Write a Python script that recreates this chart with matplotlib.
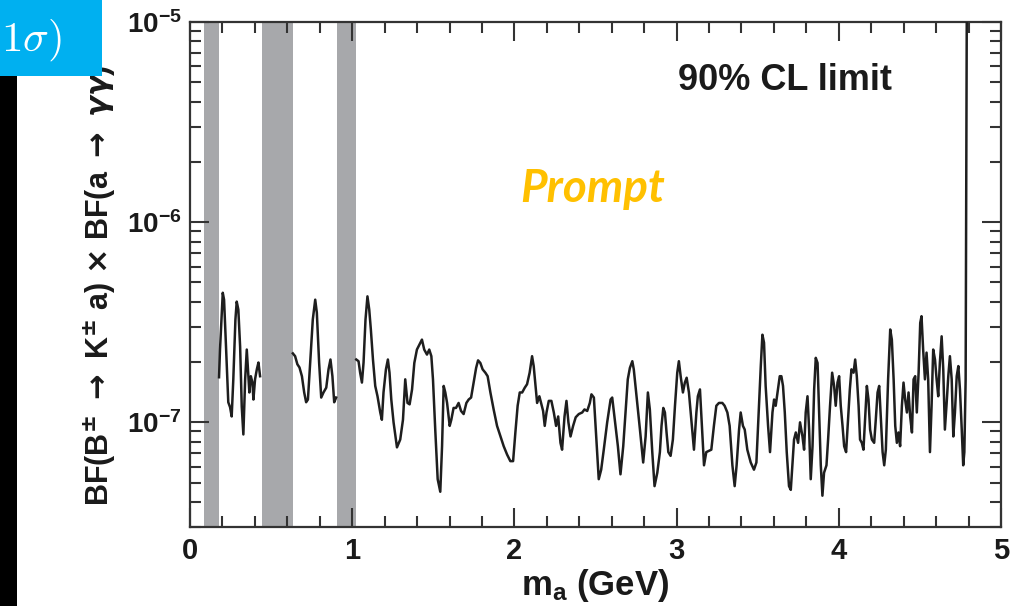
import numpy as np
import matplotlib
matplotlib.use("Agg")
import matplotlib.pyplot as plt
from matplotlib.patches import Rectangle
from matplotlib.ticker import FixedLocator, NullFormatter

plt.rcParams['font.family'] = ['Liberation Sans', 'DejaVu Sans']
plt.rcParams['font.weight'] = 'bold'
plt.rcParams['mathtext.fontset'] = 'custom'
plt.rcParams['mathtext.rm'] = 'Liberation Sans:bold'
plt.rcParams['mathtext.it'] = 'Liberation Sans:bold:italic'
plt.rcParams['mathtext.bf'] = 'Liberation Sans:bold'

# ---------------- data (mass in GeV, limit in units of 1e-7) ----------------
seg_a_mass = [0.179, 0.185, 0.202, 0.210, 0.222, 0.236, 0.247, 0.257, 0.267, 0.280,
              0.288, 0.298, 0.309, 0.319, 0.329, 0.340, 0.350, 0.360, 0.366, 0.375,
              0.385, 0.391, 0.401, 0.412, 0.422, 0.432]
seg_a_limit = [1.68, 2.31, 4.44, 4.10, 2.39, 1.26, 1.19, 1.07, 1.64, 3.26,
               4.01, 3.66, 2.39, 1.20, 0.87, 1.64, 2.31, 1.70, 1.41, 1.70,
               1.58, 1.30, 1.64, 1.84, 1.99, 1.70]

seg_b_mass = [0.634, 0.648, 0.662, 0.675, 0.690, 0.704, 0.716, 0.727, 0.741, 0.757,
              0.772, 0.782, 0.796, 0.809, 0.823, 0.840, 0.854, 0.866, 0.878, 0.889, 0.901]
seg_b_limit = [2.21, 2.14, 1.95, 1.88, 1.70, 1.41, 1.26, 1.30, 1.99, 3.26,
               4.10, 3.53, 1.99, 1.33, 1.41, 1.49, 1.84, 2.06, 1.70, 1.26, 1.33]

seg_c_mass = [1.025, 1.039, 1.049, 1.060, 1.070, 1.082, 1.094, 1.105, 1.115, 1.128,
              1.142, 1.156, 1.173, 1.183, 1.193, 1.208, 1.220, 1.230, 1.241, 1.255,
              1.276, 1.296, 1.313, 1.327, 1.341, 1.354, 1.369, 1.383, 1.399, 1.415,
              1.430, 1.444, 1.461, 1.475, 1.488, 1.498, 1.512, 1.527, 1.543, 1.554,
              1.564, 1.574, 1.585, 1.601, 1.611, 1.625, 1.640, 1.656, 1.671, 1.687,
              1.704, 1.718, 1.733, 1.749, 1.764, 1.776, 1.790, 1.804, 1.821, 1.835,
              1.852, 1.872, 1.893, 1.914, 1.934, 1.955, 1.975, 1.992, 2.006, 2.020,
              2.033, 2.048, 2.064, 2.078, 2.094, 2.109, 2.119, 2.130, 2.140, 2.154,
              2.167, 2.177, 2.187, 2.198, 2.212, 2.228, 2.243, 2.257, 2.270, 2.284,
              2.294, 2.309, 2.321, 2.333, 2.346, 2.362, 2.378, 2.397, 2.418, 2.432,
              2.449, 2.465, 2.475, 2.490, 2.504, 2.520, 2.535, 2.551, 2.572, 2.593,
              2.603, 2.619, 2.638, 2.654, 2.671, 2.685, 2.699, 2.712, 2.727, 2.736,
              2.753, 2.774, 2.794, 2.809, 2.823, 2.835, 2.850, 2.864, 2.881, 2.897,
              2.907, 2.918, 2.928, 2.938, 2.949, 2.963, 2.977, 2.990, 3.004, 3.014,
              3.025, 3.039, 3.051, 3.062, 3.076, 3.091, 3.107, 3.122, 3.131, 3.144,
              3.154, 3.169, 3.183, 3.199, 3.214, 3.230, 3.245, 3.261, 3.282, 3.296,
              3.313, 3.327, 3.344, 3.358, 3.370, 3.385, 3.395, 3.409, 3.420, 3.436,
              3.457, 3.477, 3.492, 3.504, 3.519, 3.529, 3.539, 3.549, 3.564, 3.576,
              3.591, 3.601, 3.611, 3.622, 3.636, 3.646, 3.656, 3.667, 3.679, 3.693,
              3.704, 3.714, 3.724, 3.735, 3.749, 3.761, 3.776, 3.786, 3.796, 3.807,
              3.817, 3.827, 3.838, 3.848, 3.858, 3.869, 3.879, 3.889, 3.899, 3.909,
              3.924, 3.934, 3.946, 3.959, 3.971, 3.981, 3.992, 4.002, 4.012, 4.023,
              4.033, 4.045, 4.057, 4.068, 4.078, 4.091, 4.101, 4.111, 4.122, 4.131,
              4.142, 4.152, 4.162, 4.173, 4.183, 4.193, 4.204, 4.218, 4.228, 4.239,
              4.249, 4.259, 4.270, 4.280, 4.290, 4.304, 4.317, 4.327, 4.338, 4.348,
              4.358, 4.368, 4.378, 4.389, 4.399, 4.409, 4.420, 4.430, 4.440, 4.451,
              4.461, 4.471, 4.481, 4.492, 4.502, 4.510, 4.520, 4.531, 4.541, 4.551,
              4.562, 4.572, 4.582, 4.593, 4.603, 4.613, 4.623, 4.634, 4.644, 4.654,
              4.665, 4.675, 4.685, 4.696, 4.706, 4.716, 4.727, 4.737, 4.747, 4.758,
              4.767, 4.774, 4.782, 4.790]
seg_c_limit = [2.06, 2.02, 1.77, 1.58, 1.99, 3.26, 4.26, 3.66, 2.91, 2.06,
               1.52, 1.35, 1.12, 1.03, 1.41, 1.84, 2.06, 1.77, 1.30, 1.00,
               0.75, 0.82, 1.03, 1.64, 1.25, 1.23, 1.46, 1.98, 2.31, 2.45,
               2.59, 2.31, 2.18, 2.31, 2.14, 1.64, 0.92, 0.52, 0.45, 0.76,
               1.52, 1.41, 1.25, 0.96, 1.03, 1.18, 1.18, 1.25, 1.14, 1.10,
               1.25, 1.30, 1.33, 1.58, 1.87, 2.04, 1.98, 1.84, 1.77, 1.70,
               1.41, 1.16, 0.96, 0.85, 0.76, 0.69, 0.64, 0.64, 0.89, 1.21,
               1.41, 1.41, 1.49, 1.55, 1.77, 2.14, 1.91, 1.52, 1.25, 1.35,
               1.23, 1.14, 0.96, 1.12, 1.28, 1.28, 1.12, 0.96, 1.07, 0.79,
               0.73, 1.07, 1.28, 1.00, 0.85, 0.96, 1.06, 1.10, 1.12, 1.16,
               1.14, 1.25, 1.38, 1.33, 0.85, 0.52, 0.58, 0.73, 1.00, 1.30,
               1.33, 1.03, 0.76, 0.55, 0.76, 1.12, 1.64, 1.87, 2.02, 1.84,
               1.35, 0.92, 0.63, 0.85, 1.41, 1.16, 0.71, 0.48, 0.56, 0.71,
               0.96, 1.18, 1.12, 0.89, 0.71, 0.68, 0.82, 1.21, 1.77, 2.02,
               1.70, 1.41, 1.58, 1.67, 1.41, 1.03, 0.73, 1.12, 1.35, 1.46,
               1.03, 0.61, 0.71, 0.72, 0.73, 0.96, 1.21, 1.25, 1.25, 1.21,
               1.12, 0.96, 0.61, 0.48, 0.61, 0.92, 1.12, 0.96, 0.92, 0.73,
               0.63, 0.58, 0.63, 1.03, 1.91, 2.74, 2.50, 1.52, 0.96, 0.71,
               1.12, 1.30, 1.21, 1.41, 1.70, 1.70, 1.52, 1.12, 0.71, 0.48,
               0.46, 0.61, 0.82, 0.89, 0.79, 1.00, 0.85, 0.73, 1.12, 1.35,
               0.92, 0.52, 0.76, 1.46, 2.10, 1.98, 1.12, 0.61, 0.43, 0.56,
               0.61, 0.82, 1.21, 1.77, 1.52, 1.21, 1.58, 1.70, 1.21, 0.96,
               0.76, 0.71, 1.03, 1.46, 1.84, 1.77, 2.06, 1.70, 1.21, 0.82,
               0.79, 0.73, 1.03, 1.52, 1.30, 0.92, 0.82, 0.79, 1.03, 1.41,
               1.52, 1.07, 0.71, 0.61, 0.73, 1.64, 2.91, 2.59, 1.64, 0.96,
               0.79, 0.89, 0.76, 1.21, 1.58, 1.30, 1.12, 1.41, 1.07, 0.89,
               1.64, 1.70, 1.12, 1.77, 3.14, 3.39, 2.31, 1.64, 2.23, 1.64,
               0.71, 1.21, 2.31, 2.06, 1.64, 1.35, 1.98, 2.69, 1.84, 0.92,
               1.25, 1.70, 2.14, 1.64, 0.85, 1.12, 1.70, 1.91, 1.46, 0.92,
               0.61, 0.71, 1.64, 200.0]

veto_low = [0.088, 0.443, 0.906]
veto_high = [0.179, 0.634, 1.023]

x_major = [0, 1, 2, 3, 4, 5]
y_major = [1e-7, 1e-6, 1e-5]
y_labels = ["10$^{-7}$", "10$^{-6}$", "10$^{-5}$"]

# ---------------- figure ----------------
fig = plt.figure(figsize=(10.23, 6.06), dpi=100)
ax = fig.add_axes([190 / 1023, 1 - 527 / 606, 811 / 1023, 505 / 606])

for lo, hi in zip(veto_low, veto_high):
    ax.axvspan(lo, hi, color='#a7a8ab', lw=0, zorder=1)

for m, l in ((seg_a_mass, seg_a_limit), (seg_b_mass, seg_b_limit), (seg_c_mass, seg_c_limit)):
    ax.plot(m, np.array(l) * 1e-7, color='#1e1e1e', lw=1.8, zorder=3)

ax.set_yscale('log')
ax.set_xlim(0, 5)
ax.set_ylim(3e-8, 1e-5)

ax.set_xticks(x_major)
ax.set_xticklabels([str(v) for v in x_major])
ax.xaxis.set_minor_locator(FixedLocator(np.arange(0, 5.01, 0.2)))
ax.set_yticks(y_major)
ax.set_yticklabels(y_labels)
ax.yaxis.set_minor_locator(FixedLocator([k * 10.0 ** e for e in (-8, -7, -6) for k in range(2, 10)]))
ax.yaxis.set_minor_formatter(NullFormatter())

ax.tick_params(which='both', direction='in', top=True, right=True, color='#333333', width=1.5)
ax.tick_params(which='major', length=14, pad=7)
ax.tick_params(axis='x', which='major', labelsize=21)
ax.tick_params(axis='y', which='major', labelsize=20, pad=6)
ax.tick_params(which='minor', length=8)
for lab in ax.get_xticklabels() + ax.get_yticklabels():
    lab.set_fontweight('bold')
    lab.set_color('#1a1a1a')
for s in ax.spines.values():
    s.set_linewidth(1.6)
    s.set_color('#333333')

ax.set_xlabel(r"m$_\mathregular{a}$ (GeV)", fontsize=25, fontweight='bold', color='#1a1a1a', labelpad=2)
fig.text(100 / 1023, 1 - 285 / 606,
         r"BF(B$^{\mathbf{\pm}}$ $\rightarrow$ K$^{\mathbf{\pm}}$ a) $\times$ BF(a $\rightarrow$ $\gamma\gamma$)",
         math_fontfamily='dejavusans',
         rotation=90, ha='center', va='center', fontsize=22, fontweight='bold', color='#1a1a1a')

ax.text(0.866, 0.885, "90% CL limit", transform=ax.transAxes, ha='right', va='center',
        fontsize=26, fontweight='bold', color='#1a1a1a')
ax.text(0.496, 0.67, "Prompt", transform=ax.transAxes, ha='center', va='center',
        fontsize=33, fontweight='bold', style='italic', color='#ffc000', family=['Lato', 'DejaVu Sans'])

# slide decorations
fig.patches.append(Rectangle((0, 1 - 76 / 606), 102 / 1023, 76 / 606, transform=fig.transFigure,
                             facecolor='#00b0f0', edgecolor='none', zorder=5))
fig.patches.append(Rectangle((0, 0), 17 / 1023, 1 - 76 / 606, transform=fig.transFigure,
                             facecolor='black', edgecolor='none', zorder=5))
fig.text(1 / 1023, 1 - 40 / 606, r"$1\sigma)$", math_fontfamily='cm', fontsize=31,
         fontweight='normal', color='white', ha='left', va='center', zorder=6)

fig.savefig("out.png", dpi=100)
